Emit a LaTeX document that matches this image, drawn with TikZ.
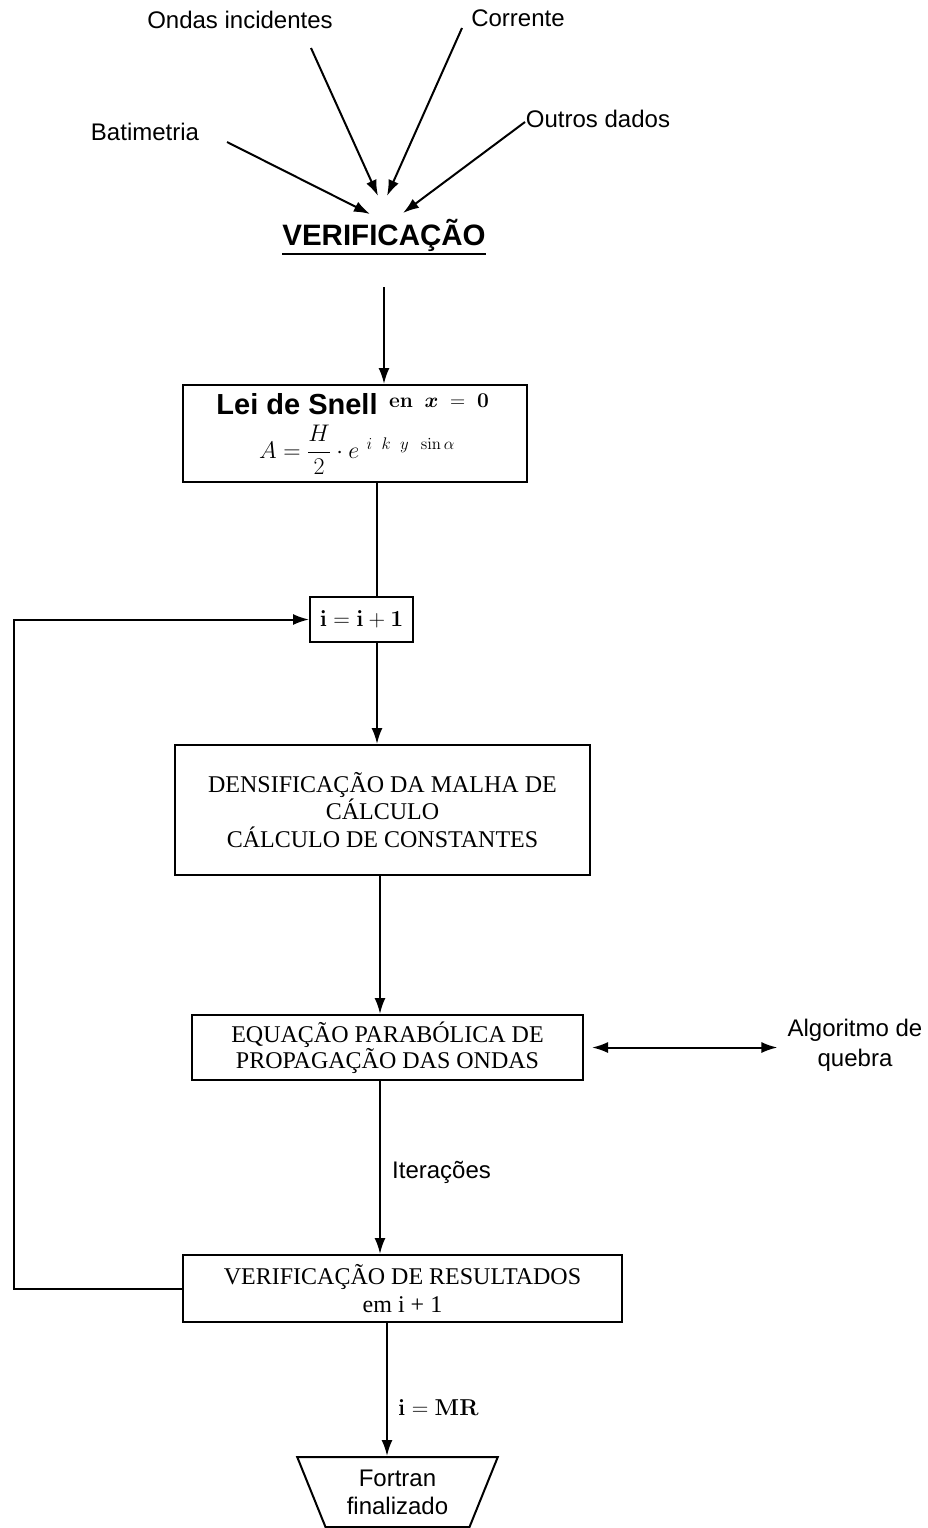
\RequirePackage{fix-cm}
\documentclass[tikz,border=0pt]{standalone}
\usepackage{amsmath}
\usepackage[no-math]{fontspec}
\setmainfont{Liberation Sans}
\newfontfamily\tnr{Liberation Serif}
\usetikzlibrary{arrows.meta,shapes.geometric}
\begin{document}
\begin{tikzpicture}[x=1pt,y=-1pt,
  lbl/.style={font=\fontsize{24}{30}\selectfont, align=center, inner sep=0pt},
  boxn/.style={draw, line width=2pt, align=center, inner sep=0pt, font=\tnr\fontsize{24}{27.5}\selectfont},
  arr/.style={line width=2pt, -{Latex[length=16pt,width=11pt]}},
  ln/.style={line width=2pt}]
\useasboundingbox (0,0) rectangle (928,1528);

% input labels
\node[lbl] (ondas) at (240,20) {Ondas incidentes};
\node[lbl] (corr) at (518,18) {Corrente};
\node[lbl] (bat) at (145,132) {Batimetria};
\node[lbl] (outros) at (598,119) {Outros dados};
\node[font=\bfseries\fontsize{29.5}{32}\selectfont, inner sep=0pt] (verif) at (384,235) {VERIFICAÇÃO};
\draw[line width=2pt] ([yshift=-3pt]verif.south west) -- ([yshift=-3pt]verif.south east);

\coordinate (ondasS) at (311,48);  \coordinate (ondasT) at (378,196);
\coordinate (corrS) at (462,28);   \coordinate (corrT) at (387,196);
\coordinate (batS) at (227,142);   \coordinate (batT) at (370,214);
\coordinate (outS) at (525,122);   \coordinate (outT) at (403,213);
\draw[arr] (ondasS) -- (ondasT);
\draw[arr] (corrS) -- (corrT);
\draw[arr] (batS) -- (batT);
\draw[arr] (outS) -- (outT);

% boxes
\node[boxn, minimum width=344pt, minimum height=97pt] (snell) at (355,433.5) {};
\node[font=\bfseries\fontsize{29}{32}\selectfont, inner sep=0pt] (snellT) at (297,404) {Lei de Snell};
\node[inner sep=0pt, font=\fontsize{21}{22}\selectfont] (snellX) at (439,401) {$\mathbf{en}\;\;\boldsymbol{x}\;=\;\mathbf{0}$};
\node[inner sep=0pt, font=\fontsize{24}{26}\selectfont] (snellF) at (357,450) {$A=\dfrac{H}{2}\cdot e^{\;\,i\;\;k\;\;y\;\;\sin\alpha}$};

\node[boxn, font=\fontsize{23}{24}\selectfont, minimum width=103pt, minimum height=45pt] (ii) at (361.5,619.5) {$\mathbf{i=i+1}$};

\node[boxn, minimum width=415pt, minimum height=130pt] (dens) at (382.5,810) {DENSIFICAÇÃO DA MALHA DE\\CÁLCULO\\CÁLCULO DE CONSTANTES};

\node[boxn, font=\tnr\fontsize{24}{26}\selectfont, minimum width=391pt, minimum height=65pt] (eq) at (387.5,1047.5) {EQUAÇÃO PARABÓLICA DE\\PROPAGAÇÃO DAS ONDAS};

\node[lbl] (algo) at (855,1045) {Algoritmo de\\quebra};

\node[lbl, anchor=west] (iter) at (392,1172) {Iterações};

\node[boxn, font=\tnr\fontsize{24}{28}\selectfont, minimum width=439pt, minimum height=67pt] (vr) at (402.5,1288.5) {VERIFICAÇÃO DE RESULTADOS\\em i + 1};

\node[anchor=west, inner sep=0pt, font=\fontsize{23}{24}\selectfont] (mr) at (398,1407) {$\mathbf{i=MR}$};

\node[draw, line width=2pt, trapezium, shape border rotate=180, trapezium stretches=true,
  trapezium left angle=66, trapezium right angle=66, minimum width=201pt, minimum height=70pt,
  inner sep=0pt, align=center, font=\fontsize{24}{28}\selectfont] (fort) at (397.5,1492) {Fortran\\finalizado};

% connectors
\coordinate (vs) at ([yshift=-36pt]verif.south);
\coordinate (xb) at (377,0);
\coordinate (xc) at (380,0);
\coordinate (xd) at (387,0);
\coordinate (lx) at (14,0);
\draw[arr] (vs) -- (vs |- snell.north);
\draw[ln] (snell.south -| xb) -- (ii.north -| xb);
\draw[arr] (ii.south -| xb) -- (dens.north -| xb);
\draw[arr] (dens.south -| xc) -- (eq.north -| xc);
\draw[arr] (eq.south -| xc) -- (vr.north -| xc);
\draw[arr] (vr.south -| xd) -- (fort.north -| xd);
\draw[arr] (vr.west) -- (vr.west -| lx) -- (ii.west -| lx) -- (ii.west);
\coordinate (ea) at ([xshift=8pt]eq.east);
\coordinate (ab) at ([xshift=-10pt]algo.west);
\draw[line width=2pt, {Latex[length=16pt,width=11pt]}-{Latex[length=16pt,width=11pt]}] (ea) -- (ea -| ab);
\end{tikzpicture}
\end{document}
